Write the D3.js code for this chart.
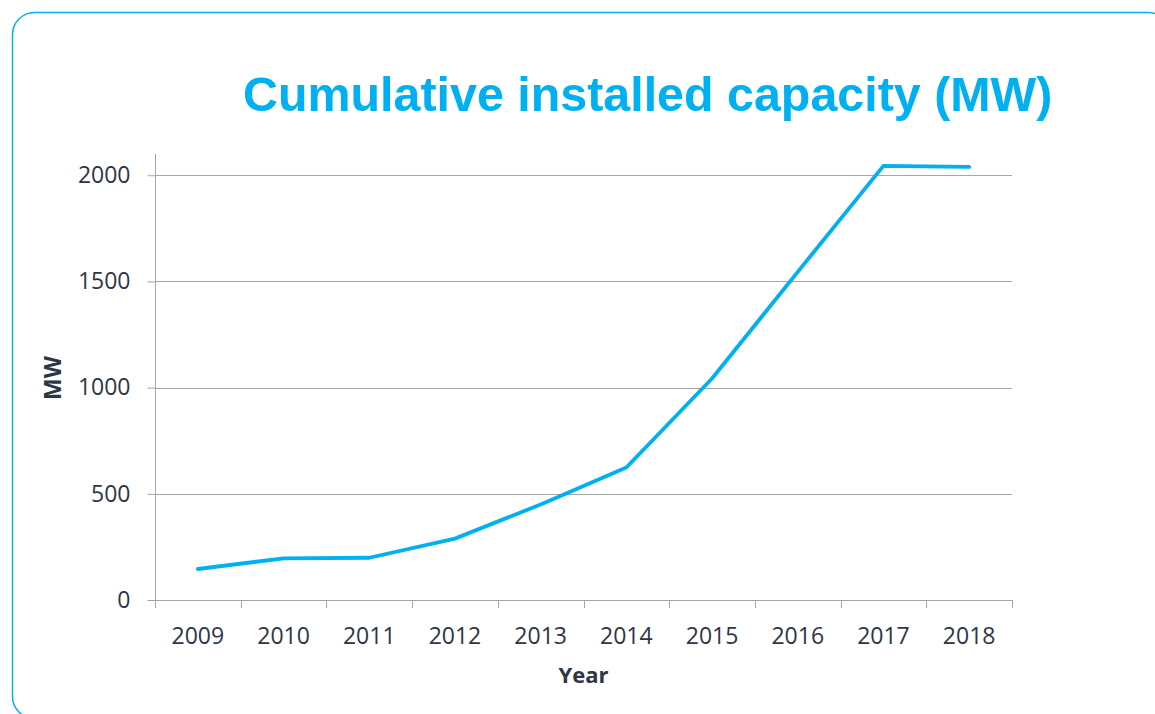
<!DOCTYPE html>
<html>
<head>
<meta charset="utf-8">
<script src="https://cdn.jsdelivr.net/npm/d3@7/dist/d3.min.js"></script>
<style>
  html, body { margin: 0; padding: 0; background: #ffffff; }
  svg { display: block; }
</style>
</head>
<body>
<svg id="chart" width="1155" height="714"></svg>
<script>
const years = ["2009","2010","2011","2012","2013","2014","2015","2016","2017","2018"];
const capacity = [146, 196, 199, 289, 450, 624, 1043, 1545, 2044, 2039];
const yTicks = [0, 500, 1000, 1500, 2000];
const titleText = "Cumulative installed capacity (MW)";
const xTitle = "Year";
const yTitle = "MW";

(function () {
const blue = "#00b0f0";
const textColor = "#2e3546";
const gridColor = "#a6a6a6";

const svg = d3.select("#chart");

// rounded border
svg.append("rect")
  .attr("x", 12.5).attr("y", 12.5)
  .attr("width", 1158).attr("height", 706)
  .attr("rx", 22).attr("ry", 22)
  .attr("fill", "none").attr("stroke", blue).attr("stroke-width", 1.5);

const pLeft = 155, pRight = 1012, pTop = 154, pBottom = 600;

const x = d3.scaleBand().domain(years).range([pLeft, pRight]).padding(0);
const y = d3.scaleLinear().domain([0, 2100]).range([pBottom, pTop]);

// gridlines
svg.append("g").selectAll("line").data(yTicks.filter(d => d > 0)).join("line")
  .attr("x1", pLeft).attr("x2", pRight)
  .attr("y1", d => Math.round(y(d)) + 0.5).attr("y2", d => Math.round(y(d)) + 0.5)
  .attr("stroke", gridColor).attr("stroke-width", 1);

// y axis
const yAxis = svg.append("g")
  .attr("transform", `translate(${pLeft + 0.5},0)`)
  .call(d3.axisLeft(y).tickValues(yTicks).tickSize(8).tickPadding(17).tickFormat(d3.format("d")));
yAxis.select(".domain").attr("stroke", gridColor).attr("d", `M0,${pTop}V${pBottom + 8}`);
yAxis.selectAll(".tick line").attr("stroke", gridColor);
yAxis.selectAll(".tick text")
  .attr("fill", textColor)
  .style("font-family", "'Open Sans', sans-serif")
  .style("font-size", "23px");

// x axis
const xAxis = svg.append("g")
  .attr("transform", `translate(0,${pBottom + 0.5})`)
  .call(d3.axisBottom(x).tickSize(0).tickPadding(0));
xAxis.select(".domain").attr("stroke", gridColor).attr("d", `M${pLeft},0H${pRight}`);
xAxis.selectAll(".tick line").remove();
xAxis.selectAll(".tick text")
  .attr("fill", textColor)
  .attr("y", 43).attr("dy", 0)
  .style("font-family", "'Open Sans', sans-serif")
  .style("font-size", "23px");
// band boundary ticks
const bounds = years.map(d => x(d)).concat([x(years[years.length - 1]) + x.bandwidth()]);
svg.append("g").selectAll("line").data(bounds).join("line")
  .attr("x1", d => Math.round(d) + 0.5).attr("x2", d => Math.round(d) + 0.5)
  .attr("y1", pBottom).attr("y2", pBottom + 8)
  .attr("stroke", gridColor).attr("stroke-width", 1);

// line
const line = d3.line()
  .x((d, i) => x(years[i]) + x.bandwidth() / 2)
  .y(d => y(d));
svg.append("path")
  .datum(capacity)
  .attr("d", line)
  .attr("fill", "none")
  .attr("stroke", blue)
  .attr("stroke-width", 3.8)
  .attr("stroke-linejoin", "round")
  .attr("stroke-linecap", "round");

// axis titles
svg.append("text")
  .attr("x", (pLeft + pRight) / 2).attr("y", 683)
  .attr("text-anchor", "middle")
  .attr("fill", textColor)
  .style("font-family", "'Open Sans', sans-serif")
  .style("font-weight", "bold")
  .style("font-size", "22px")
  .text(xTitle);

svg.append("text")
  .attr("transform", "translate(61,378) rotate(-90)")
  .attr("text-anchor", "middle")
  .attr("fill", textColor)
  .style("font-family", "'Open Sans', sans-serif")
  .style("font-weight", "bold")
  .style("font-size", "23px")
  .text(yTitle);

// title
const title = svg.append("text")
  .attr("x", 243).attr("y", 111)
  .attr("fill", blue)
  .style("font-family", "'Liberation Sans', Arial, sans-serif")
  .style("font-weight", "bold")
  .style("font-size", "48px")
  .text(titleText);
const w = title.node().getComputedTextLength();
const fs = 48 * 809 / w;
title.style("font-size", fs.toFixed(1) + "px");
})();
</script>
</body>
</html>
